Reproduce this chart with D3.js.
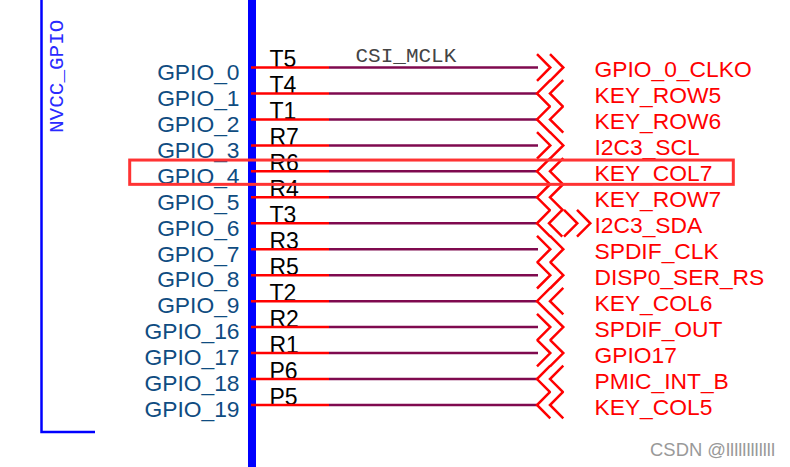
<!DOCTYPE html>
<html>
<head>
<meta charset="utf-8">
<style>
html, body { margin: 0; padding: 0; background: #fff; }
svg { display: block; }
text { font-family: "Liberation Sans", Arial, sans-serif; }
.mono { font-family: "Liberation Mono", "Courier New", monospace; }
</style>
<script src="https://cdn.jsdelivr.net/npm/d3@7"></script>
</head>
<body>
<div id="vis"></div>
<script>
var pinNames = ['GPIO_0', 'GPIO_1', 'GPIO_2', 'GPIO_3', 'GPIO_4', 'GPIO_5', 'GPIO_6',
    'GPIO_7', 'GPIO_8', 'GPIO_9', 'GPIO_16', 'GPIO_17', 'GPIO_18', 'GPIO_19'];
var pinNumbers = ['T5', 'T4', 'T1', 'R7', 'R6', 'R4', 'T3', 'R3', 'R5', 'T2', 'R2', 'R1', 'P6', 'P5'];
var netNames = ['GPIO_0_CLKO', 'KEY_ROW5', 'KEY_ROW6', 'I2C3_SCL', 'KEY_COL7', 'KEY_ROW7', 'I2C3_SDA',
    'SPDIF_CLK', 'DISP0_SER_RS', 'KEY_COL6', 'SPDIF_OUT', 'GPIO17', 'PMIC_INT_B', 'KEY_COL5'];
var netDirs = ['out', 'in', 'in', 'out', 'in', 'in', 'both',
    'out', 'out', 'in', 'out', 'out', 'in', 'in'];
var highlighted = 'GPIO_4';

var width = 790, height = 467;

var svg = d3.select('#vis').append('svg')
    .attr('width', width)
    .attr('height', height);

var y = d3.scalePoint()
    .domain(pinNames)
    .range([67.5, 405]);

// rows joined from the small arrays
var rows = pinNames.map(function(name, i) {
    return { name: name, number: pinNumbers[i], net: netNames[i], dir: netDirs[i] };
});

// symbol outline
svg.append('path')
    .attr('d', 'M41.5,0V432H95')
    .attr('fill', 'none')
    .attr('stroke', '#0000ff')
    .attr('stroke-width', 2.5);

svg.append('text')
    .attr('class', 'mono')
    .attr('transform', 'translate(63,133) rotate(-90)')
    .attr('font-size', 21)
    .attr('fill', '#2a2aff')
    .text('NVCC_GPIO');

svg.append('rect')
    .attr('x', 248)
    .attr('y', 0)
    .attr('width', 8)
    .attr('height', height)
    .attr('fill', '#0000ff');

svg.selectAll('.pin-name')
    .data(rows)
    .enter().append('text')
    .attr('class', 'pin-name')
    .attr('x', 239.5)
    .attr('y', function(d) { return y(d.name) + 12.3; })
    .attr('text-anchor', 'end')
    .attr('font-size', 22.8)
    .attr('fill', '#0f4c81')
    .text(function(d) { return d.name; });

svg.selectAll('.pin-number')
    .data(rows)
    .enter().append('text')
    .attr('class', 'pin-number')
    .attr('x', 269.5)
    .attr('y', function(d) { return y(d.name) - 0.5; })
    .attr('font-size', 23)
    .attr('fill', '#000')
    .text(function(d) { return d.number; });

svg.append('text')
    .attr('class', 'mono')
    .attr('x', 355.5)
    .attr('y', 62)
    .attr('font-size', 21)
    .attr('fill', '#444')
    .text('CSI_MCLK');

// wires
svg.selectAll('.wire')
    .data(rows)
    .enter().append('line')
    .attr('class', 'wire')
    .attr('x1', 329)
    .attr('x2', 538)
    .attr('y1', function(d) { return y(d.name); })
    .attr('y2', function(d) { return y(d.name); })
    .attr('stroke', '#7f0a4f')
    .attr('stroke-width', 2.5);

svg.selectAll('.stub')
    .data(rows)
    .enter().append('line')
    .attr('class', 'stub')
    .attr('x1', 251)
    .attr('x2', 329)
    .attr('y1', function(d) { return y(d.name); })
    .attr('y2', function(d) { return y(d.name); })
    .attr('stroke', '#ff0000')
    .attr('stroke-width', 2.5);

// off page connectors
function connector(dir)
{
    var s = 13.3;
    var right = function(x) { return 'M' + x + ',' + (-s) + 'L' + (x + s) + ',0L' + x + ',' + s; };
    var left = function(x) { return 'M' + (x + s) + ',' + (-s) + 'L' + x + ',0L' + (x + s) + ',' + s; };
    if(dir == 'out') return right(537) + right(550);
    if(dir == 'in') return left(537) + left(550);
    return left(537) + left(549) + right(564) + right(577);
}

svg.selectAll('.connector')
    .data(rows)
    .enter().append('path')
    .attr('class', 'connector')
    .attr('transform', function(d) { return 'translate(0,' + y(d.name) + ')'; })
    .attr('d', function(d) { return connector(d.dir); })
    .attr('fill', 'none')
    .attr('stroke', '#ff0000')
    .attr('stroke-width', 2.5);

svg.selectAll('.net-name')
    .data(rows)
    .enter().append('text')
    .attr('class', 'net-name')
    .attr('x', 594.5)
    .attr('y', function(d) { return y(d.name) + 9.7; })
    .attr('font-size', 22.8)
    .attr('fill', '#ff0000')
    .text(function(d) { return d.net; });

// highlight box around the row
svg.append('rect')
    .attr('x', 129.7)
    .attr('y', y(highlighted) - 11.3)
    .attr('width', 603.6)
    .attr('height', 24.3)
    .attr('fill', 'none')
    .attr('stroke', '#ff3333')
    .attr('stroke-width', 3);

svg.append('text')
    .attr('x', 775)
    .attr('y', 456)
    .attr('text-anchor', 'end')
    .attr('font-size', 18.4)
    .attr('fill', '#999')
    .text('CSDN @llllllllllll');
</script>
</body>
</html>
